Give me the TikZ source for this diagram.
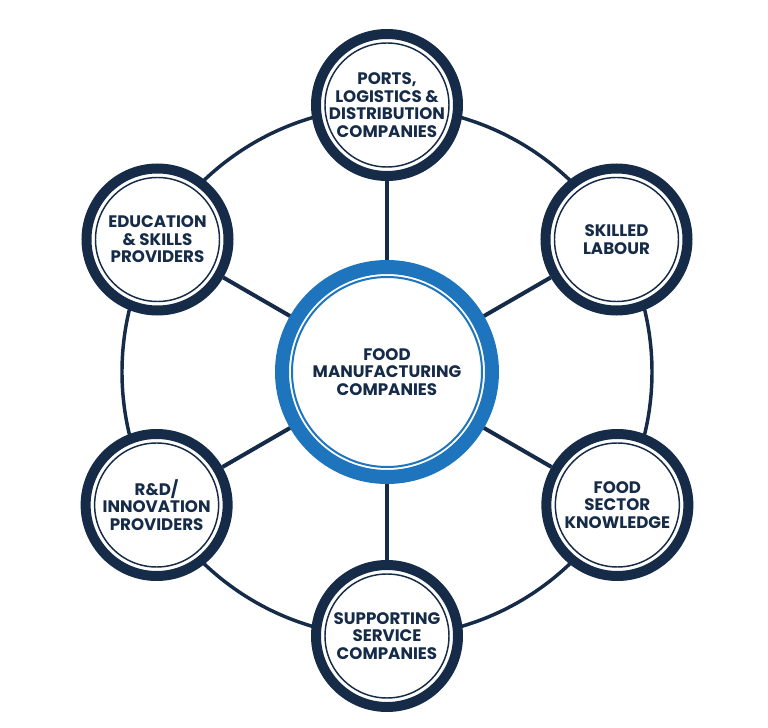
\documentclass[tikz,border=0pt]{standalone}
\usepackage{fontspec}
\setmainfont{Poppins}
\usepackage{tikz}
\usetikzlibrary{positioning}
\definecolor{navy}{RGB}{21,43,72}
\definecolor{ringblue}{RGB}{30,117,190}
\tikzset{
    hub/.style={
        circle, fill=white,
        draw=ringblue, line width=10.5pt,
        minimum size=157.5pt, inner sep=0pt,
        align=center, text=navy,
        font=\bfseries\fontsize{12.5}{13.1}\selectfont,
        path picture={\draw[ringblue,line width=1.5pt]
            (path picture bounding box.center) circle (95);}
    },
    % satellite circles
    partner/.style={
        circle, fill=white,
        draw=navy, line width=7.5pt,
        minimum size=106.5pt, inner sep=0pt,
        align=center, text=navy,
        font=\bfseries\fontsize{12.5}{13.1}\selectfont,
        path picture={\draw[navy,line width=1.1pt]
            (path picture bounding box.center) circle (62);}
    },
    spoke/.style={
        line width=3pt,
        navy
    }
}

\begin{document}
\begin{tikzpicture}[x=0.75pt,y=0.75pt]
\useasboundingbox (-387,-356) rectangle (381,372);

% outer ring
\draw[line width=2.6pt,navy] (0,0) circle (265);

\node[hub] (food) at (0,0) {FOOD\\MANUFACTURING\\COMPANIES};

\node[partner] (ports) at (90:267) {PORTS,\\LOGISTICS \&\\DISTRIBUTION\\COMPANIES};
\node[partner] (labour) at (30:265) {SKILLED\\LABOUR};
\node[partner] (sector) at (-30:266) {FOOD\\SECTOR\\KNOWLEDGE};
\node[partner] (service) at (-90:264) {SUPPORTING\\SERVICE\\COMPANIES};
\node[partner] (innov) at (210:266) {R\&D/\\INNOVATION\\PROVIDERS};
\node[partner] (educ) at (150:265) {EDUCATION\\\& SKILLS\\PROVIDERS};

% spokes
\draw[spoke] (food) -- (ports);
\draw[spoke] (food) -- (labour);
\draw[spoke] (food) -- (sector);
\draw[spoke] (food) -- (service);
\draw[spoke] (food) -- (innov);
\draw[spoke] (food) -- (educ);

\end{tikzpicture}
\end{document}
